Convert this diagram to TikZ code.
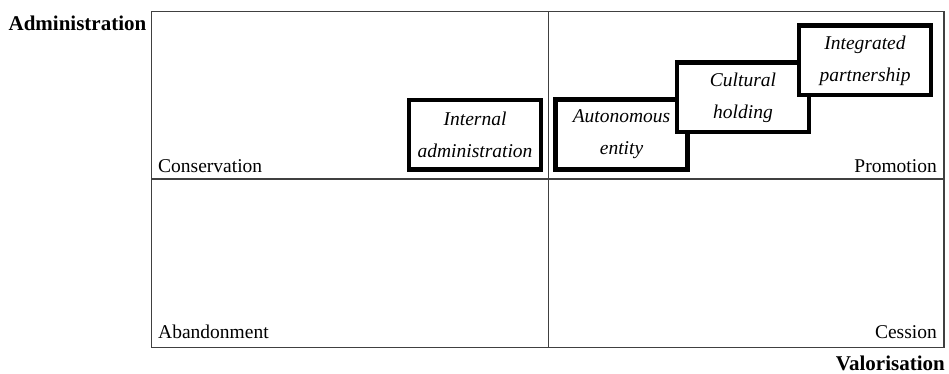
\documentclass[tikz,border=0pt]{standalone}
\usepackage{fontspec}
\setmainfont{Liberation Serif}
\begin{document}
\begin{tikzpicture}[x=1pt, y=-1pt,
	caixa/.style={draw, line width=4.5pt, fill=white, minimum width=132pt, minimum height=69.5pt, inner sep=0pt, align=center, font=\fontsize{19.5}{32}\selectfont\itshape},
	rotulo/.style={inner sep=0pt, font=\fontsize{19.5}{23}\selectfont},
	eixo/.style={inner sep=0pt, font=\fontsize{21}{25}\selectfont\bfseries}]

\useasboundingbox (0,0) rectangle (949,374);

% Quadrantes
\begin{scope}[gray!50!black, line width=1.5pt]
	\draw (151.5,11.5) rectangle (944,347.5);
	\draw (548.5,11.5) -- (548.5,347.5);
	\draw (151.5,179) -- (944,179);
\end{scope}

\node[rotulo, anchor=base west] (conservacao) at (158,172) {Conservation};
\node[rotulo, anchor=base east] (promocao) at (937,172) {Promotion};
\node[rotulo, anchor=base west] (abandono) at (158,338) {Abandonment};
\node[rotulo, anchor=base east] (cessao) at (937,338) {Cession};

% Eixos
\node[eixo, anchor=base east] (administracao) at (146.5,31) {Administration};
\node[eixo, anchor=base east] (valorizacao) at (945,370) {Valorisation};

% Caixas
\node[caixa] (interna) at (475,135) {Internal\\administration};
\node[caixa] (autonoma) at (621.5,134.5) {Autonomous\\entity};
\node[caixa] (holding) at (743,97.5) {Cultural\\holding};
\node[caixa] (parceria) at (865,60.5) {Integrated\\partnership};
\end{tikzpicture}
\end{document}
